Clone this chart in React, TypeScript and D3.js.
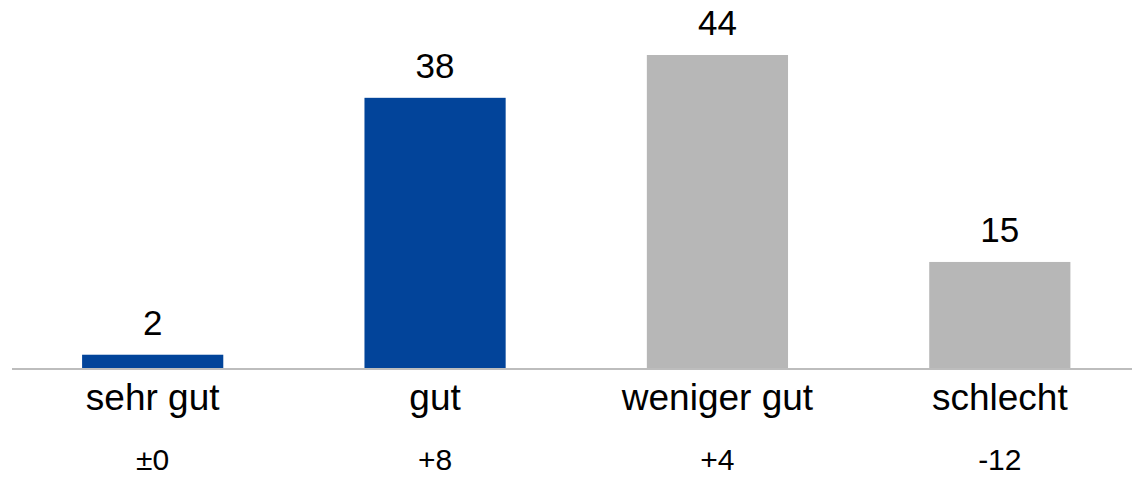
import * as d3 from "d3";
import React, { useEffect, useRef } from "react";

const categories = ["sehr gut", "gut", "weniger gut", "schlecht"];
const values = [2, 38, 44, 15];
const changes = ["±0", "+8", "+4", "-12"];
const barColors = ["#02449a", "#02449a", "#b7b7b7", "#b7b7b7"];

const W = 1132;
const H = 480;

const App: React.FC = () => {
  const ref = useRef<SVGSVGElement>(null);

  useEffect(() => {
    const svg = d3.select(ref.current).html("");
    const font = "'Liberation Sans', Arial, sans-serif";

    const x = d3
      .scaleBand<string>()
      .domain(categories)
      .range([11.5, 1141])
      .paddingInner(0.5)
      .paddingOuter(0.25);

    const baseY = 369;
    const y = d3.scaleLinear().domain([0, 44]).range([baseY, 55]);

    // Balken
    svg
      .selectAll("rect.bar")
      .data(values)
      .enter()
      .append("rect")
      .attr("class", "bar")
      .attr("x", (_, i) => x(categories[i])!)
      .attr("y", (d) => y(d))
      .attr("width", x.bandwidth())
      .attr("height", (d) => baseY - y(d))
      .attr("fill", (_, i) => barColors[i]);

    // Grundlinie
    svg
      .append("line")
      .attr("x1", 12)
      .attr("x2", W)
      .attr("y1", baseY)
      .attr("y2", baseY)
      .attr("stroke", "#bdbdbd")
      .attr("stroke-width", 2);

    const cx = (i: number) => x(categories[i])! + x.bandwidth() / 2;

    // Werte
    svg
      .selectAll("text.value")
      .data(values)
      .enter()
      .append("text")
      .attr("class", "value")
      .attr("x", (_, i) => cx(i))
      .attr("y", (d) => y(d) - 20)
      .attr("text-anchor", "middle")
      .attr("font-family", font)
      .attr("font-size", 35)
      .attr("fill", "#000")
      .text((d) => d);

    // Kategorien
    svg
      .selectAll("text.cat")
      .data(categories)
      .enter()
      .append("text")
      .attr("class", "cat")
      .attr("x", (_, i) => cx(i))
      .attr("y", 410)
      .attr("text-anchor", "middle")
      .attr("font-family", font)
      .attr("font-size", 37)
      .attr("fill", "#000")
      .text((d) => d);

    // Veränderung
    svg
      .selectAll("text.change")
      .data(changes)
      .enter()
      .append("text")
      .attr("class", "change")
      .attr("x", (_, i) => cx(i))
      .attr("y", 470)
      .attr("text-anchor", "middle")
      .attr("font-family", font)
      .attr("font-size", 30)
      .attr("fill", "#000")
      .text((d) => d);
  }, []);

  return (
    <svg
      ref={ref}
      width={W}
      height={H}
      style={{ position: "absolute", left: 0, top: 0, background: "#fff" }}
    ></svg>
  );
};

export default App;
